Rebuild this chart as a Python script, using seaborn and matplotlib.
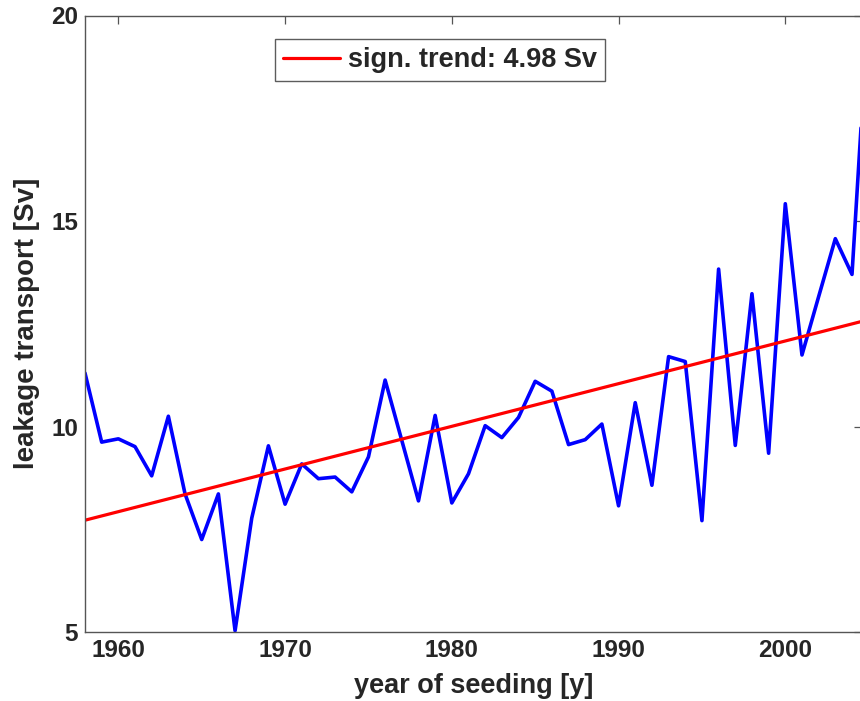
import numpy as np
import pandas as pd
import matplotlib
matplotlib.use('Agg')
import matplotlib.pyplot as plt
import seaborn as sns

# yearly leakage transport
years = list(range(1958, 2006))
leakage = [11.30, 9.62, 9.70, 9.51, 8.80, 10.25, 8.36, 7.25, 8.36, 5.03,
           7.77, 9.53, 8.11, 9.09, 8.73, 8.77, 8.41, 9.26, 11.13, 9.66,
           8.19, 10.27, 8.14, 8.85, 10.02, 9.73, 10.22, 11.10, 10.86, 9.56,
           9.68, 10.06, 8.07, 10.58, 8.57, 11.70, 11.58, 7.71, 13.83, 9.54,
           13.23, 9.35, 15.42, 11.74, 13.16, 14.57, 13.70, 20.3]

# significant trend, end points
trend_years = [1958, 2005]
trend_values = [7.72, 12.60]
trend_label = 'sign. trend: 4.98 Sv'

x_ticks = [1960, 1970, 1980, 1990, 2000]
y_ticks = [5, 10, 15, 20]

df = pd.DataFrame({'year': years, 'leakage': leakage})
trend = pd.DataFrame({'year': trend_years, 'leakage': trend_values})

sns.set_style('white')
plt.rcParams['font.family'] = ['Liberation Sans', 'DejaVu Sans']
plt.rcParams['font.weight'] = 'bold'

fig = plt.figure(figsize=(8.6, 7.01), dpi=100)
ax = fig.add_axes([85 / 860, 69 / 701, 777 / 860, 616.5 / 701])

sns.lineplot(data=df, x='year', y='leakage', ax=ax, color='#0000ff',
             linewidth=2.6, legend=False)
sns.lineplot(data=trend, x='year', y='leakage', ax=ax, color='#ff0000',
             linewidth=2.3, label=trend_label)

ax.set_xlim(1958, 2004.6)
ax.set_ylim(5, 20)
ax.set_xticks(x_ticks)
ax.set_yticks(y_ticks)
ax.tick_params(direction='in', length=6, width=0.9, color='#555555',
               top=True, right=True, labelsize=17.5, pad=5)
for lab in ax.get_xticklabels() + ax.get_yticklabels():
    lab.set_fontweight('bold')

for sp in ax.spines.values():
    sp.set_visible(True)
    sp.set_color('#555555')
    sp.set_linewidth(1.0)

ax.set_xlabel('year of seeding [y]', fontsize=19.5, fontweight='bold', labelpad=8)
ax.set_ylabel('leakage transport [Sv]', fontsize=20, fontweight='bold', labelpad=8)

leg = ax.legend(loc='upper left', bbox_to_anchor=(0.2445, 0.962),
                borderaxespad=0, fancybox=False, frameon=True,
                handlelength=2.1, handletextpad=0.3, borderpad=0.3,
                prop={'size': 19.5, 'weight': 'bold'})
leg.get_frame().set_edgecolor('#333333')
leg.get_frame().set_linewidth(1.0)

fig.savefig('out.png', dpi=100, facecolor='white')
